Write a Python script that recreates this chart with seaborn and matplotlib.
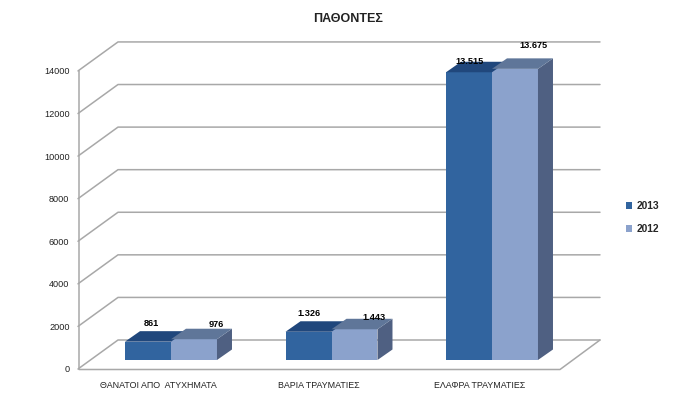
import pandas as pd
import matplotlib
matplotlib.use('Agg')
import matplotlib.pyplot as plt
from matplotlib.patches import Polygon
import seaborn as sns

categories = ['ΘΑΝΑΤΟΙ ΑΠΟ  ΑΤΥΧΗΜΑΤΑ', 'ΒΑΡΙΑ ΤΡΑΥΜΑΤΙΕΣ', 'ΕΛΑΦΡΑ ΤΡΑΥΜΑΤΙΕΣ']
values_2013 = [861, 1326, 13515]
values_2012 = [976, 1443, 13675]
labels_2013 = ['861', '1.326', '13.515']
labels_2012 = ['976', '1.443', '13.675']
y_ticks = [0, 2000, 4000, 6000, 8000, 10000, 12000, 14000]

# pixel layout of the fake 3d box (reference is 700x393)
SX = 160.5      # px per category
SY = 0.02129    # px per unit
X0, Y0 = 171, 360
GRAY = '#a8a8a8'
FACE = {'2013': '#31649f', '2012': '#8ba2cc'}
TOP = {'2013': '#20477c', '2012': '#5f7699'}
SIDE = '#4f6082'


def xp(px):
    return (px - X0) / SX


def yp(px):
    return (Y0 - px) / SY


sns.set_theme(style='white')
plt.rcParams['font.family'] = ['Liberation Sans', 'DejaVu Sans']

df = pd.DataFrame({
    'cat': categories * 2,
    'val': values_2013 + values_2012,
    'year': ['2013'] * 3 + ['2012'] * 3,
})

fig = plt.figure(figsize=(7, 3.93), dpi=100)
ax = fig.add_axes([0, 0, 1, 1])
sns.barplot(data=df, x='cat', y='val', hue='year', hue_order=['2013', '2012'],
            palette=FACE, width=0.573, gap=0, saturation=1, linewidth=0, ax=ax)
ax.set_xlim(xp(0), xp(700))
ax.set_ylim(yp(393), yp(0))
ax.axis('off')

# walls and gridlines
for v in y_ticks:
    front = 369 - v * SY
    back = 340 - v * SY
    ax.plot([xp(78), xp(118), xp(600)], [yp(front), yp(back), yp(back)],
            color=GRAY, lw=1.1, zorder=0.5)
    ax.text(xp(69.5), yp(front + 1), str(v), ha='right', va='center',
            fontsize=6.6, color='#222222')
ax.plot([xp(79), xp(79)], [yp(369), yp(71)], color=GRAY, lw=1.1, zorder=0.5)
ax.plot([xp(79), xp(560), xp(600)], [yp(369.5), yp(369.5), yp(340)],
        color=GRAY, lw=1.1, zorder=0.5)

# depth faces built from the seaborn bars, the 2013 side is hidden behind 2012
dx = 15 / SX
dy = 10.5 / SY
for container, year in zip(ax.containers, ['2013', '2012']):
    for bar in container:
        x0, x1 = bar.get_x(), bar.get_x() + bar.get_width()
        h = bar.get_height()
        if year == '2012':
            ax.add_patch(Polygon([(x1, 0), (x1 + dx, dy), (x1 + dx, h + dy), (x1, h)],
                                 color=SIDE, lw=0, zorder=1.2))
        ax.add_patch(Polygon([(x0, h), (x1, h), (x1 + dx, h + dy), (x0 + dx, h + dy)],
                             color=TOP[year], lw=0, zorder=1.2))

# data labels, positions differ per bar like in the original
offs_2013 = [(3, 18), (0, 18), (1, 11)]
offs_2012 = [(22, 15), (19, 12), (18, 23)]
for container, labs, offs in zip(ax.containers, [labels_2013, labels_2012], [offs_2013, offs_2012]):
    for bar, lab, (ox, oy) in zip(container, labs, offs):
        ax.text(bar.get_x() + bar.get_width() / 2 + ox / SX, bar.get_height() + oy / SY, lab,
                ha='center', va='center', fontsize=6.6, fontweight='bold', color='black', zorder=5)

label_x = [158, 319, 480]
for name, px in zip(categories, label_x):
    ax.text(xp(px), yp(386), name, ha='center', va='center', fontsize=6.4, color='#222222')

ax.text(xp(348), yp(19), 'ΠΑΘΟΝΤΕΣ', ha='center', va='center', fontsize=9,
        fontweight='bold', color='#222222')

sns.move_legend(ax, 'upper left', bbox_to_anchor=(626 / 700, 1 - 201 / 393), title=None,
                frameon=False, handlelength=0.6, handleheight=0.7,
                handletextpad=0.45, labelspacing=1.25, borderpad=0, borderaxespad=0,
                prop={'weight': 'bold', 'size': 7.4})

fig.savefig('out.png', dpi=100)
